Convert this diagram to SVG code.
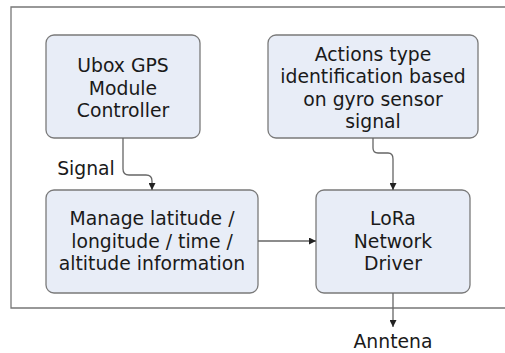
<svg xmlns="http://www.w3.org/2000/svg" width="505" height="353" viewBox="0 0 505 353">
<defs>
<style>
.box{fill:#e8edf7;stroke:#7a7a7a;stroke-width:1.3}
.t{font-family:"DejaVu Sans","Noto Sans",sans-serif;font-size:18.8px;fill:#1a1a1a;text-anchor:middle}
.c{fill:none;stroke:#666;stroke-width:1.3}
.frame{fill:none;stroke:#777;stroke-width:1.3}
</style>
<marker id="ah" viewBox="0 0 10 10" refX="10" refY="5" markerWidth="7" markerHeight="7" markerUnits="userSpaceOnUse" orient="auto">
<path d="M0,0 L10,5 L0,10 z" fill="#222"/>
</marker>
</defs>
<rect width="505" height="353" fill="#fff"/>
<path class="frame" d="M520,7 H11 V308 H520"/>
<g id="n1">
<rect class="box" x="46" y="35" width="154" height="103" rx="8"/>
<text class="t" x="123" y="72">Ubox GPS</text>
<text class="t" x="123" y="94.5">Module</text>
<text class="t" x="123" y="117">Controller</text>
</g>
<g id="n2">
<rect class="box" x="268" y="35" width="210" height="103" rx="8"/>
<text class="t" x="373" y="61">Actions type</text>
<text class="t" x="373" y="83.4">identification based</text>
<text class="t" x="373" y="105.8">on gyro sensor</text>
<text class="t" x="373" y="128.2">signal</text>
</g>
<g id="n3">
<rect class="box" x="46" y="190" width="212" height="103" rx="8"/>
<text class="t" x="152" y="225">Manage latitude /</text>
<text class="t" x="152" y="247.5">longitude / time /</text>
<text class="t" x="152" y="270">altitude information</text>
</g>
<g id="n4">
<rect class="box" x="316" y="190" width="154" height="103" rx="8"/>
<text class="t" x="393" y="225">LoRa</text>
<text class="t" x="393" y="247.5">Network</text>
<text class="t" x="393" y="270">Driver</text>
</g>
<g id="connectors">
<path class="c" marker-end="url(#ah)" d="M123,138 V169 Q123,175 129,175 H146 Q152,175 152,181 V190"/>
<path class="c" marker-end="url(#ah)" d="M373,138 V148 Q373,153 378,153 H388 Q393,153 393,159 V190"/>
<path class="c" marker-end="url(#ah)" d="M258,241 H316"/>
<path class="c" marker-end="url(#ah)" d="M393,293 V327"/>
<text class="t" x="86" y="175">Signal</text>
<text class="t" x="393" y="348">Anntena</text>
</g>
</svg>
